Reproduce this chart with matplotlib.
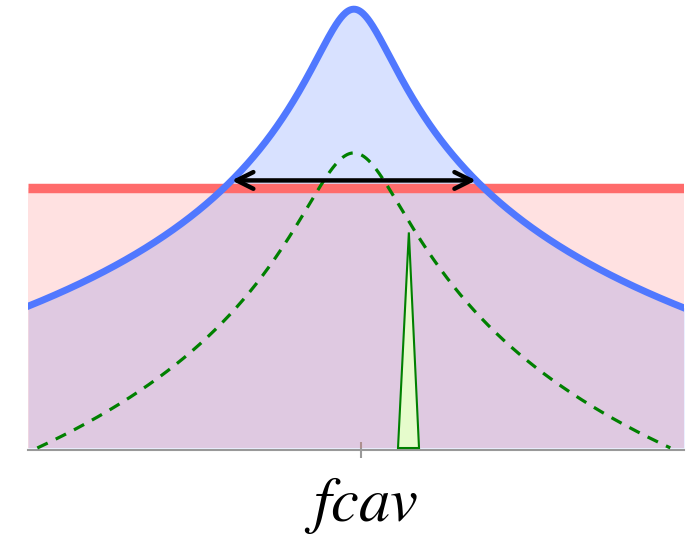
import numpy as np
import matplotlib.pyplot as plt

# detuning in cavity half-linewidths, levels in dB above the floor
x_range = [-9.31, 9.43]
cav_peak_db = 28.7
cav_width = 1.0
thresh_db = 17.0
gain_peak_db = 19.3
gain_width = 1.29
gain_slope = 11.35
arrow_db = 17.5
laser_x = [1.26, 1.57, 1.86]
laser_db = [0.0, 14.1, 0.0]
fcav_tick = 0.2

plt.rcParams['mathtext.fontset'] = 'stix'

fig = plt.figure(figsize=(6.98, 5.46), dpi=100)
ax = fig.add_axes([28 / 698, 96 / 546, 656 / 698, 450 / 546])

x = np.linspace(x_range[0], x_range[1], 1200)
cav = cav_peak_db - 10 * np.log10(1 + (x / cav_width) ** 2)

# cavity transmission (blue) with its shaded area
ax.fill_between(x, 0, cav, color='#5078ff', alpha=0.22, lw=0, zorder=1)
# threshold level (red)
ax.fill_between(x_range, 0, thresh_db, color='#ff6b6b', alpha=0.2, lw=0, zorder=2)
ax.plot(x_range, [thresh_db, thresh_db], color='#ff6b6b', lw=6.8,
        solid_capstyle='butt', zorder=3)
ax.plot(x, cav, color='#5078ff', lw=5, zorder=5)

# gain profile, dashed, only where it is above the floor
gain = gain_peak_db - gain_slope * np.log10(1 + (x / gain_width) ** 2)
keep = gain >= 0
ax.plot(x[keep], gain[keep], color='green', lw=2.3, dashes=(3.6, 2.8), zorder=4)

# narrow laser line
ax.fill(laser_x, laser_db, facecolor='#e6fccc', edgecolor='green', lw=1.5, zorder=4)

# linewidth arrow between the flanks of the cavity curve
half = cav_width * np.sqrt(10 ** ((cav_peak_db - arrow_db) / 10) - 1)
ax.annotate('', xy=(-half, arrow_db), xytext=(half, arrow_db),
            arrowprops=dict(arrowstyle='<->', lw=3.2, color='black',
                            mutation_scale=30, shrinkA=0, shrinkB=0),
            zorder=6)

ax.set_xlim(x_range)
ax.set_ylim(-0.13, 448 / 15.29)
for s in ['top', 'right', 'left']:
    ax.spines[s].set_visible(False)
ax.spines['bottom'].set_color('#999999')
ax.spines['bottom'].set_linewidth(1.5)
ax.set_yticks([])
ax.set_xticks([fcav_tick])
ax.set_xticklabels([r'$fcav$'], fontsize=45)
ax.tick_params(axis='x', direction='inout', length=11.5, width=1.5,
               color='#999999', pad=12)

fig.savefig('out.png', dpi=100)
